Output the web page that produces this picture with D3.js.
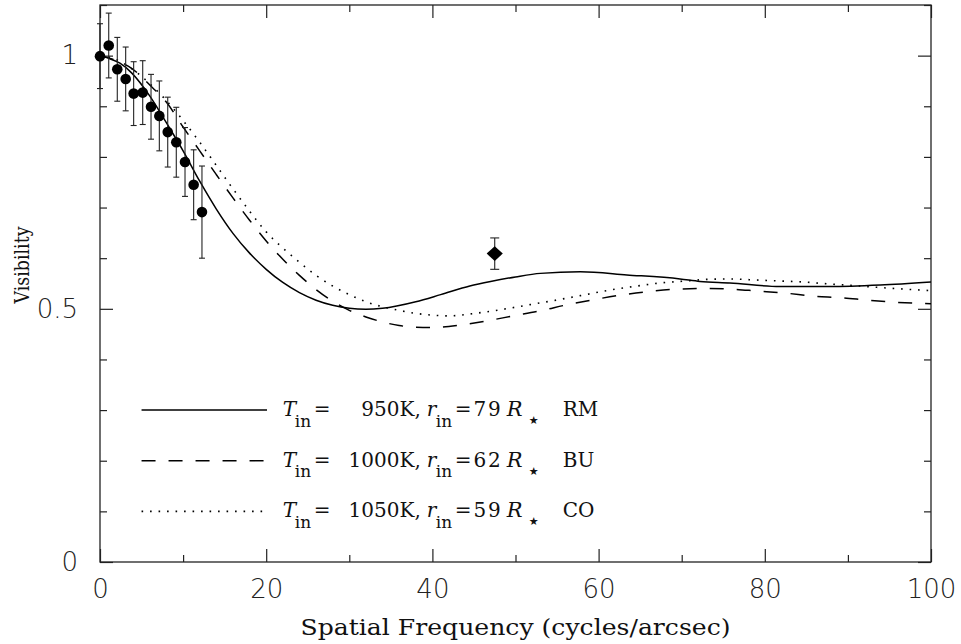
<!DOCTYPE html>
<head>
<meta charset="utf-8">
<style>
body { margin: 0; background: #fff; }
.tick text { font-family: "DejaVu Sans", sans-serif; font-weight: 200; font-size: 26px; fill: #222; }
.tick line { stroke: #222; stroke-width: 1.2; }
.lab { font-family: "DejaVu Serif", serif; fill: #111; }
</style>
<script src="https://d3js.org/d3.v7.min.js"></script>
</head>
<body>
<div id="chart"></div>
<script>

// measured visibilities
var ptFreq = [0, 1.05, 2.08, 3.09, 4.05, 5.14, 6.14, 7.14, 8.15, 9.18, 10.23, 11.27, 12.27];
var ptVis  = [0.999, 1.020, 0.973, 0.954, 0.925, 0.927, 0.899, 0.881, 0.849, 0.829, 0.790, 0.745, 0.691];
var ptErr  = [0.064, 0.064, 0.063, 0.063, 0.063, 0.063, 0.064, 0.069, 0.069, 0.069, 0.068, 0.069, 0.091];

// single diamond point
var dmFreq = [47.5];
var dmVis  = [0.609];
var dmErr  = [0.031];

// model curves
var rmFreq = [0, 1, 2.4, 3.8, 6, 8, 10, 12, 14, 16, 18, 20, 22, 24, 26, 28, 30, 32, 34, 38, 41, 44.5, 47, 50, 53, 57.8, 63.4, 69.8, 72.2, 75.8, 81.8, 87.8, 93.9, 100];
var rmVis  = [1, 0.995, 0.985, 0.966, 0.920, 0.867, 0.812, 0.752, 0.697, 0.649, 0.610, 0.578, 0.552, 0.532, 0.517, 0.507, 0.501, 0.499, 0.501, 0.514, 0.528, 0.545, 0.554, 0.563, 0.570, 0.573, 0.567, 0.559, 0.554, 0.551, 0.544, 0.544, 0.547, 0.553];

var buFreq = [0, 2, 3.8, 6.3, 8, 10, 12, 14, 16, 18, 20, 22, 24, 26, 28, 30, 32, 34, 36, 38, 40, 43.4, 46.5, 49.7, 53, 56.2, 59.4, 62.6, 65.9, 69.5, 72.6, 75.8, 79.2, 82.5, 85.8, 89.1, 92.5, 95.7, 100];
var buVis  = [1, 0.990, 0.975, 0.937, 0.908, 0.859, 0.812, 0.765, 0.719, 0.675, 0.634, 0.598, 0.566, 0.538, 0.515, 0.497, 0.484, 0.474, 0.467, 0.4635, 0.463, 0.468, 0.476, 0.486, 0.496, 0.508, 0.518, 0.527, 0.534, 0.539, 0.540, 0.539, 0.535, 0.531, 0.525, 0.522, 0.517, 0.513, 0.510];

var coFreq = [0, 2, 4, 7.6, 9.8, 12, 14, 16, 18, 20, 22, 24, 26, 28, 30, 32, 34, 36, 38, 40, 42, 44.6, 48.1, 51.3, 54.5, 57.8, 61, 64.2, 67.4, 70.6, 72.8, 75.8, 78.8, 81.8, 84.6, 87.8, 90.6, 93.9, 96.7, 100];
var coVis  = [1, 0.992, 0.972, 0.918, 0.876, 0.829, 0.783, 0.737, 0.693, 0.652, 0.620, 0.592, 0.566, 0.545, 0.528, 0.514, 0.504, 0.497, 0.491, 0.4875, 0.486, 0.490, 0.498, 0.507, 0.516, 0.526, 0.536, 0.544, 0.551, 0.555, 0.558, 0.559, 0.557, 0.555, 0.553, 0.549, 0.546, 0.542, 0.539, 0.536];

var xMajor = [0, 20, 40, 60, 80, 100];
var xMinor = [10, 30, 50, 70, 90];
var yMajor = [0, 0.5, 1];
var yMinor = [0.1, 0.2, 0.3, 0.4, 0.6, 0.7, 0.8, 0.9, 1.1];
var yLabels = ["0", "0.5", "1"];

var legTemp = ["950K,", "1000K,", "1050K,"];
var legRad  = ["=79", "=62", "=59"];
var legName = ["RM", "BU", "CO"];
var legVis  = [0.3, 0.2, 0.1];

var margin = {top: 5, right: 30, bottom: 82, left: 100},
    width = 961 - margin.left - margin.right,
    height = 644 - margin.top - margin.bottom;

var x = d3.scaleLinear().domain([0, 100]).range([0, width]);
var y = d3.scaleLinear().domain([0, 1.1]).range([height, 0]);

var svg = d3.select('#chart').append('svg')
    .attr('width', width + margin.left + margin.right)
    .attr('height', height + margin.top + margin.bottom)
  .append('g')
    .attr('transform', 'translate(' + margin.left + ',' + margin.top + ')');

// axes, ticks pointing inward
function axis(gen, vals, size, tr) {
  var g = svg.append('g').attr('transform', tr).call(gen.tickValues(vals).tickSize(-size));
  g.select('.domain').remove();
  return g;
}
axis(d3.axisBottom(x).tickFormat(''), xMinor, 7, 'translate(0,' + height + ')');
var bx = axis(d3.axisBottom(x).tickFormat(d3.format('d')), xMajor, 13, 'translate(0,' + height + ')');
bx.selectAll('text').attr('y', 18);
axis(d3.axisTop(x).tickFormat(''), xMinor, 7, 'translate(0,0)');
axis(d3.axisTop(x).tickFormat(''), xMajor, 13, 'translate(0,0)');
axis(d3.axisLeft(y).tickFormat(''), yMinor, 7, 'translate(0,0)');
var ly = axis(d3.axisLeft(y).tickFormat(function(d, i) { return yLabels[i]; }), yMajor, 13, 'translate(0,0)');
ly.selectAll('text').attr('x', -22);
axis(d3.axisRight(y).tickFormat(''), yMinor, 7, 'translate(' + width + ',0)');
axis(d3.axisRight(y).tickFormat(''), yMajor, 13, 'translate(' + width + ',0)');

svg.append('rect')
  .attr('width', width).attr('height', height)
  .attr('fill', 'none').attr('stroke', '#222').attr('stroke-width', 1.3);

// model curves
var line = d3.line().x(function(d) { return x(d[0]); }).y(function(d) { return y(d[1]); })
  .curve(d3.curveMonotoneX);
var styles = [
  {dash: null, w: 1.5},
  {dash: '14,13', w: 1.5},
  {dash: '1.6,6.9', w: 1.6}
];
[[rmFreq, rmVis], [buFreq, buVis], [coFreq, coVis]].forEach(function(c, i) {
  svg.append('path')
    .datum(d3.zip(c[0], c[1]))
    .attr('d', line)
    .attr('fill', 'none')
    .attr('stroke', '#000')
    .attr('stroke-width', styles[i].w)
    .attr('stroke-dasharray', styles[i].dash);
});

// error bars
function errBars(fx, fv, fe, cap) {
  var g = svg.append('g').attr('stroke', '#222').attr('stroke-width', 1.1);
  fx.forEach(function(f, i) {
    var cx = x(f), t = y(fv[i] + fe[i]), b = y(fv[i] - fe[i]);
    g.append('line').attr('x1', cx).attr('x2', cx).attr('y1', t).attr('y2', b);
    g.append('line').attr('x1', cx - cap).attr('x2', cx + cap).attr('y1', t).attr('y2', t);
    g.append('line').attr('x1', cx - cap).attr('x2', cx + cap).attr('y1', b).attr('y2', b);
  });
}
errBars(ptFreq, ptVis, ptErr, 3);
errBars(dmFreq, dmVis, dmErr, 4.5);

svg.selectAll('.pt')
  .data(d3.zip(ptFreq, ptVis))
  .enter().append('circle')
    .attr('class', 'pt')
    .attr('cx', function(d) { return x(d[0]); })
    .attr('cy', function(d) { return y(d[1]); })
    .attr('r', 5.3)
    .attr('fill', '#000');

svg.selectAll('.dm')
  .data(d3.zip(dmFreq, dmVis))
  .enter().append('path')
    .attr('class', 'dm')
    .attr('d', d3.symbol(d3.symbolSquare, 130))
    .attr('transform', function(d) { return 'translate(' + x(d[0]) + ',' + y(d[1]) + ') scale(1,0.9) rotate(45)'; })
    .attr('fill', '#000');

// legend
legVis.forEach(function(v, i) {
  var yy = y(v);
  svg.append('line')
    .attr('x1', x(5)).attr('x2', x(20.1)).attr('y1', yy).attr('y2', yy)
    .attr('stroke', '#000').attr('stroke-width', styles[i].w)
    .attr('stroke-dasharray', styles[i].dash);
  var x0 = x(22);
  var g = svg.append('g').attr('class', 'lab').attr('font-size', 20);
  g.append('text').attr('x', x0).attr('y', yy + 6).attr('font-style', 'italic').text('T');
  g.append('text').attr('x', x0 + 12).attr('y', yy + 16.5).attr('font-size', 17).text('in');
  g.append('text').attr('x', x0 + 31).attr('y', yy + 6).text('=');
  g.append('text').attr('x', x0 + 138).attr('y', yy + 6).attr('text-anchor', 'end').text(legTemp[i]);
  g.append('text').attr('x', x0 + 144).attr('y', yy + 6).attr('font-style', 'italic').text('r');
  g.append('text').attr('x', x0 + 153).attr('y', yy + 16.5).attr('font-size', 17).text('in');
  g.append('text').attr('x', x0 + 172).attr('y', yy + 6)
    .attr('textLength', 46).attr('lengthAdjust', 'spacing').text(legRad[i]);
  g.append('text').attr('x', x0 + 224).attr('y', yy + 6).attr('font-style', 'italic').attr('font-size', 21).text('R');
  g.append('text').attr('x', x0 + 246).attr('y', yy + 14).attr('font-size', 11).attr('font-family', 'DejaVu Sans').text('★');
  g.append('text').attr('x', x0 + 280).attr('y', yy + 6).text(legName[i]);
});

// axis titles
svg.append('text').attr('class', 'lab')
  .attr('x', width / 2).attr('y', height + 73)
  .attr('text-anchor', 'middle').attr('font-size', 22)
  .attr('textLength', 430).attr('lengthAdjust', 'spacingAndGlyphs')
  .text('Spatial Frequency (cycles/arcsec)');

svg.append('text').attr('class', 'lab')
  .attr('transform', 'translate(' + (29 - margin.left) + ',' + (265 - margin.top) + ') rotate(-90)')
  .attr('text-anchor', 'middle').attr('font-size', 20)
  .attr('textLength', 77).attr('lengthAdjust', 'spacingAndGlyphs')
  .text('Visibility');

</script>
</body>
